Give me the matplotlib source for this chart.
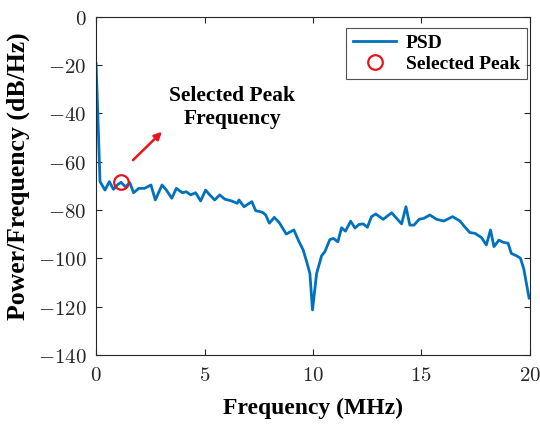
import numpy as np
import matplotlib
matplotlib.use("Agg")
import matplotlib.pyplot as plt
from matplotlib.ticker import FuncFormatter

# PSD trace (MHz, dB/Hz)
freq_mhz = [0.0, 0.18, 0.41, 0.61, 0.80, 1.00, 1.15, 1.36, 1.55, 1.73, 1.97, 2.23,
            2.53, 2.73, 3.04, 3.24, 3.49, 3.70, 3.98, 4.16, 4.36, 4.59, 4.82, 5.05,
            5.24, 5.47, 5.70, 5.94, 6.25, 6.51, 6.59, 6.82, 7.18, 7.36, 7.67, 7.82,
            7.99, 8.22, 8.45, 8.77, 9.12, 9.35, 9.55, 9.71, 9.86, 9.98, 10.17, 10.40,
            10.55, 10.78, 10.94, 11.15, 11.32, 11.50, 11.74, 11.94, 12.13, 12.32, 12.51,
            12.70, 12.90, 13.24, 13.63, 13.86, 14.09, 14.29, 14.47, 14.66, 14.90, 15.12,
            15.39, 15.70, 16.04, 16.44, 16.78, 17.00, 17.24, 17.47, 17.77, 18.00, 18.19,
            18.35, 18.58, 18.77, 19.00, 19.15, 19.41, 19.57, 19.72, 19.97]
psd_db = [-19.5, -68.3, -71.8, -68.3, -71.5, -69.5, -68.6, -70.5, -68.7, -72.9, -71.1, -71.1,
          -69.7, -75.9, -69.7, -71.8, -75.2, -71.1, -72.9, -72.5, -73.8, -72.9, -76.3, -71.8,
          -73.8, -75.9, -73.8, -75.6, -76.3, -77.3, -75.9, -78.7, -76.6, -80.3, -81.0, -82.1,
          -85.5, -83.1, -85.3, -90.0, -88.3, -93.0, -96.6, -101.4, -106.3, -121.4, -106.3, -99.0,
          -97.3, -92.3, -91.8, -93.2, -87.4, -88.8, -84.7, -87.5, -86.0, -85.8, -87.2,
          -82.8, -81.7, -83.9, -81.2, -83.5, -85.8, -78.7, -86.3, -86.3, -83.9, -83.5,
          -82.1, -83.9, -84.6, -82.8, -84.6, -87.0, -89.4, -89.7, -91.4, -94.5, -88.3,
          -95.2, -92.5, -93.4, -93.8, -98.0, -99.1, -100.0, -104.2, -116.5]

peak_freq = 1.15
peak_db = -68.6

plt.rcParams['mathtext.fontset'] = 'cm'
bold_serif = dict(family='Liberation Serif', weight='bold')

fig = plt.figure(figsize=(5.4, 4.24), dpi=100)
ax = fig.add_axes([0.178, 0.163, 0.803, 0.798])

ax.plot(freq_mhz, psd_db, color=(0, 0.447, 0.741), lw=2.0, label='PSD')
ax.plot([peak_freq], [peak_db], 'o', mfc='none', mec='#e8141b', ms=10.5, mew=1.6,
        label='Selected Peak')

ax.annotate('', xy=(3.13, -46.9), xytext=(1.61, -60.2),
            arrowprops=dict(arrowstyle='-|>', color='#e8141b', lw=1.8, mutation_scale=11))
ax.text(6.27, -37.5, 'Selected Peak\nFrequency', ha='center', va='center',
        fontsize=15.5, linespacing=1.2, **bold_serif)

ax.set_xlim(0, 20)
ax.set_ylim(-140, 0)
ax.set_xticks([0, 5, 10, 15, 20])
ax.set_yticks(np.arange(-140, 1, 20))
fmt = FuncFormatter(lambda v, p: r'$%d$' % v)
ax.xaxis.set_major_formatter(fmt)
ax.yaxis.set_major_formatter(fmt)
ax.tick_params(direction='in', top=True, right=True, labelsize=15, length=4,
               color='#262626', labelcolor='#262626')
ax.tick_params(axis='x', pad=7)
ax.tick_params(axis='y', pad=7)
for s in ax.spines.values():
    s.set_color('#262626')
    s.set_linewidth(0.8)

ax.set_xlabel('Frequency (MHz)', fontsize=17, labelpad=9.5, **bold_serif)
ax.set_ylabel('Power/Frequency (dB/Hz)', fontsize=18.5, **bold_serif)
ax.yaxis.set_label_coords(-0.152, 0.529)

leg = ax.legend(loc='upper right', bbox_to_anchor=(0.993, 0.967),
                prop=dict(family='Liberation Serif', weight='bold', size=14),
                frameon=True, fancybox=False, edgecolor='#262626', handlelength=2.2,
                borderaxespad=0.0, labelspacing=0.15, handletextpad=0.5, borderpad=0.35)
leg.get_frame().set_linewidth(0.8)

fig.savefig('out.png', dpi=100)
